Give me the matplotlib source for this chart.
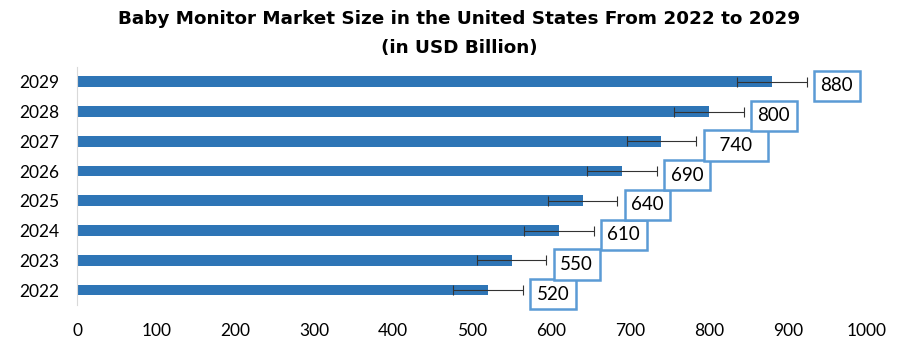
import matplotlib.pyplot as plt

# Baby monitor market size, USA, 2022-2029 (USD billion)
years = ["2022", "2023", "2024", "2025", "2026", "2027", "2028", "2029"]
values = [520, 550, 610, 640, 690, 740, 800, 880]
errors = [44, 44, 44, 44, 44, 44, 44, 44]
labels = ["520", "550", "610", "640", "690", "  740  ", "800", "880"]

plt.rcParams["font.family"] = ["Lato", "DejaVu Sans"]

fig = plt.figure(figsize=(9, 3.43), dpi=100)
ax = fig.add_axes([0.086, 0.111, 0.877, 0.694])

pos = range(len(years))
ax.barh(pos, values, height=0.36, color="#2E75B6", zorder=2)
ax.errorbar(values, pos, xerr=errors, fmt="none", ecolor="#333333",
            elinewidth=0.8, capsize=3.5, capthick=0.8, zorder=3)

for i, (v, e, t) in enumerate(zip(values, errors, labels)):
    ax.annotate(t, xy=(v, i), xytext=(35, -3), textcoords="offset points",
                ha="left", va="center", fontsize=13.5, color="black",
                bbox=dict(boxstyle="square,pad=0.35", fc="white",
                          ec="#5B9BD5", lw=1.8), zorder=4)

ax.set_xlim(0, 1000)
ax.set_ylim(-0.5, len(years) - 0.5)
ax.set_xticks(range(0, 1001, 100))
ax.set_yticks(list(pos))
ax.set_yticklabels(years)
ax.tick_params(axis="both", length=0, labelsize=12.5)
ax.tick_params(axis="y", pad=13)
ax.tick_params(axis="x", pad=13)

for s in ["top", "right", "bottom"]:
    ax.spines[s].set_visible(False)
ax.spines["left"].set_color("#d9d9d9")
ax.spines["left"].set_linewidth(0.8)

fig.suptitle("Baby Monitor Market Size in the United States From 2022 to 2029\n(in USD Billion)",
             x=0.51, y=0.97, fontsize=13.2, fontweight="bold",
             family=["DejaVu Sans"], linespacing=1.75)

fig.savefig("out.png", dpi=100)
